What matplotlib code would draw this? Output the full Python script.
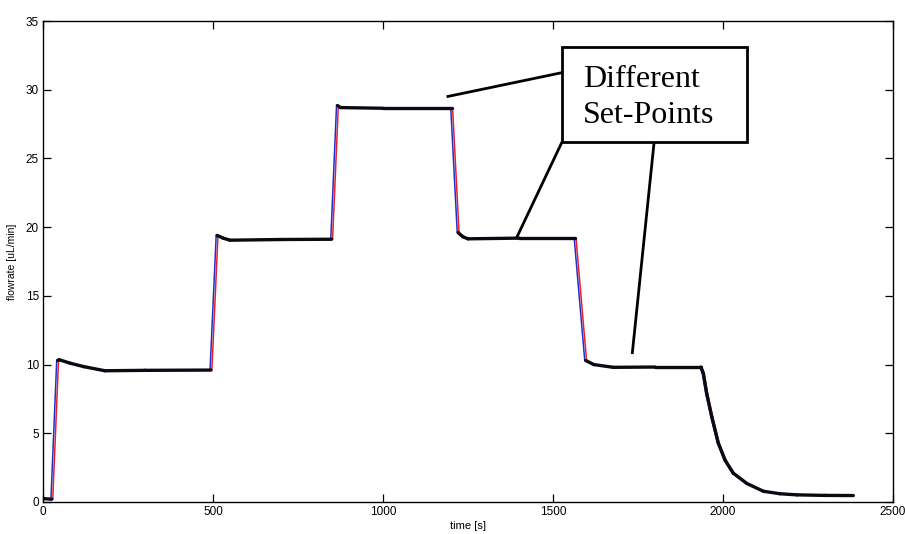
#!/usr/bin/env python3
"""Flow-rate step response through a series of set-points."""

import numpy as np
import matplotlib

matplotlib.use("Agg")
import matplotlib.pyplot as plt
from matplotlib.collections import LineCollection
from matplotlib.patches import Rectangle
from matplotlib.transforms import offset_copy

# measured flow rate [uL/min] against time [s]
time_s = [0, 26, 43, 48, 80, 120, 182, 300, 494,
          512, 530, 550, 700, 849,
          866, 875, 1000, 1202,
          1221, 1235, 1250, 1400, 1565,
          1596, 1620, 1677, 1800, 1935,
          1942, 1952, 1967, 1986, 2006, 2030, 2070, 2119, 2168, 2217, 2300, 2383]
flow = [0.25, 0.2, 10.3, 10.35, 10.1, 9.85, 9.55, 9.58, 9.6,
        19.4, 19.2, 19.05, 19.1, 19.12,
        28.85, 28.7, 28.65, 28.65,
        19.6, 19.3, 19.15, 19.2, 19.2,
        10.3, 10.0, 9.8, 9.82, 9.82,
        9.37, 7.9, 6.2, 4.3, 3.05, 2.1, 1.35, 0.78, 0.6, 0.52, 0.48, 0.47]

x_ticks = [0, 500, 1000, 1500, 2000, 2500]
y_ticks = [0, 5, 10, 15, 20, 25, 30, 35]

callout_lines = ["Different", "Set-Points"]


def main() -> None:
    plt.rcParams["font.family"] = "Liberation Sans"
    fig = plt.figure(figsize=(9.05, 5.34), dpi=100)
    ax = fig.add_axes([43 / 905, 32 / 534, 850 / 905, 481 / 534])

    t = np.asarray(time_s, dtype=float)
    v = np.asarray(flow, dtype=float)

    # reference and model traces, nudged apart so both stay visible on the steps
    ax.plot(t, v, color="#e8202a", linewidth=1.1,
            transform=offset_copy(ax.transData, fig=fig, x=0.9, y=0, units="dots"))
    ax.plot(t, v, color="#2030c8", linewidth=1.1,
            transform=offset_copy(ax.transData, fig=fig, x=-0.9, y=0, units="dots"))

    # sampled data only shows up where the signal is slow
    pts = np.column_stack([t, v])
    segs = np.stack([pts[:-1], pts[1:]], axis=1)
    slope = np.abs(np.diff(v) / np.diff(t))
    black = LineCollection(segs[slope < 0.2], colors="#0a0a14", linewidths=2.4,
                           capstyle="round", joinstyle="round")
    ax.add_collection(black)

    ax.set_xlim(0, 2500)
    ax.set_ylim(0, 35)
    ax.set_xticks(x_ticks)
    ax.set_yticks(y_ticks)
    ax.tick_params(direction="in", length=6, width=0.9, top=True, right=True,
                   labelsize=8.5, pad=3)
    for spine in ax.spines.values():
        spine.set_linewidth(1.0)
    ax.set_xlabel("time [s]", fontsize=8, labelpad=2)
    ax.set_ylabel("flowrate [uL/min]", fontsize=7.5, labelpad=6)

    # call-out box pointing at the plateaus
    ax.add_patch(Rectangle((1527, 26.22), 2069.7 - 1527, 33.1 - 26.22,
                           facecolor="white", edgecolor="black", linewidth=2.0,
                           clip_on=False, zorder=5))
    for (x0, y0), (x1, y1) in [((1526, 31.24), (1187, 29.49)),
                               ((1527, 26.22), (1393, 19.23)),
                               ((1797, 26.1), (1733, 10.77))]:
        ax.plot([x0, x1], [y0, y1], color="black", linewidth=2.0,
                solid_capstyle="butt", zorder=4)
    for label, y in zip(callout_lines, [30.17, 27.56]):
        ax.text(1587, y, label, fontsize=23, family="Liberation Serif",
                ha="left", va="baseline", zorder=6)

    fig.savefig("out.png", dpi=100)
    plt.close(fig)


if __name__ == "__main__":
    main()
